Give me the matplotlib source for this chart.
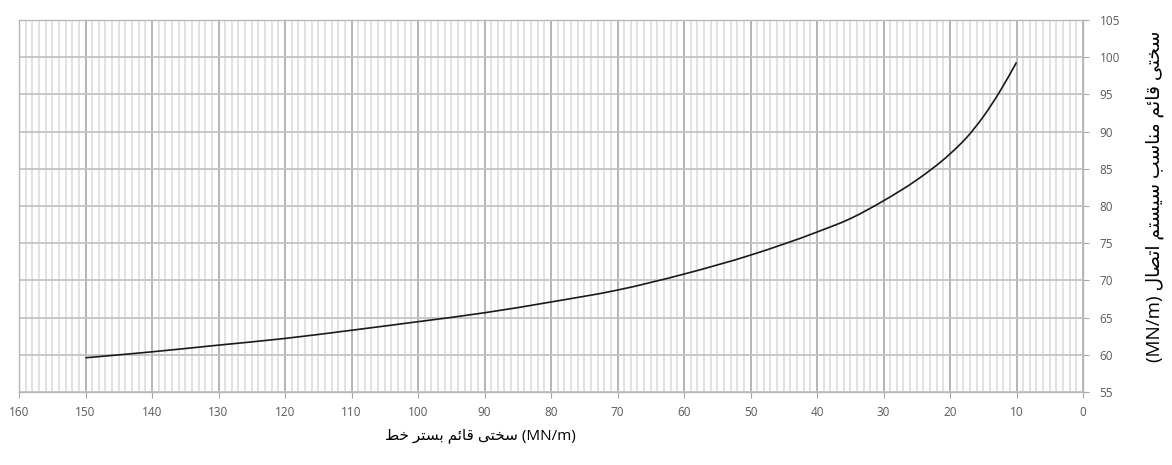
import numpy as np
import matplotlib
matplotlib.use('Agg')
import matplotlib.pyplot as plt
from matplotlib.ticker import MultipleLocator
from matplotlib.path import Path
from matplotlib.patches import PathPatch

# stiffness of track bed (x) vs. suitable stiffness of fastening system (y)
bed_stiffness = [150, 140, 130, 120, 110, 100, 90, 80, 70, 60, 50, 40, 35, 30, 25, 20, 17.5, 15, 12.5, 10]
fastening_stiffness = [59.6, 60.4, 61.3, 62.2, 63.3, 64.45, 65.65, 67.1, 68.7, 70.85,
                       73.4, 76.5, 78.3, 80.7, 83.5, 87.0, 89.2, 92.0, 95.4, 99.3]

x_ticks = list(range(0, 161, 10))
y_ticks = list(range(55, 106, 5))

xlabel_words = ['سختی', 'قائم', 'بستر', 'خط']
ylabel_words = ['سختی', 'قائم', 'مناسب', 'سیستم', 'اتصال']
unit = '(MN/m)'

# matplotlib has no arabic shaping -> pick presentation forms by hand
# (isolated, final, initial, medial); right-joining letters have no initial/medial
FORMS = {
    'ا': ('\uFE8D', '\uFE8E', None, None),
    'ر': ('\uFEAD', '\uFEAE', None, None),
    'ب': ('\uFE8F', '\uFE90', '\uFE91', '\uFE92'),
    'ت': ('\uFE95', '\uFE96', '\uFE97', '\uFE98'),
    'خ': ('\uFEA5', '\uFEA6', '\uFEA7', '\uFEA8'),
    'س': ('\uFEB1', '\uFEB2', '\uFEB3', '\uFEB4'),
    'ص': ('\uFEB9', '\uFEBA', '\uFEBB', '\uFEBC'),
    'ط': ('\uFEC1', '\uFEC2', '\uFEC3', '\uFEC4'),
    'ق': ('\uFED5', '\uFED6', '\uFED7', '\uFED8'),
    'ل': ('\uFEDD', '\uFEDE', '\uFEDF', '\uFEE0'),
    'م': ('\uFEE1', '\uFEE2', '\uFEE3', '\uFEE4'),
    'ن': ('\uFEE5', '\uFEE6', '\uFEE7', '\uFEE8'),
    'ئ': ('\uFE89', '\uFE8A', '\uFE8B', '\uFE8C'),
    'ی': ('\uFEEF', '\uFEF0', '\uFEF3', '\uFEF4'),
}


def shape(word):
    out = []
    n = len(word)
    for i, ch in enumerate(word):
        f = FORMS[ch]
        prev_join = i > 0 and FORMS[word[i - 1]][2] is not None
        next_join = i < n - 1 and f[2] is not None
        if prev_join and next_join:
            out.append(f[3])
        elif prev_join:
            out.append(f[1])
        elif next_join:
            out.append(f[2])
        else:
            out.append(f[0])
    return ''.join(reversed(out))


# visual order (left to right) of the rtl words
xlabel = ' '.join(shape(w) for w in reversed(xlabel_words)) + ' ' + unit
ylabel = unit + ' ' + ' '.join(shape(w) for w in reversed(ylabel_words))

fig = plt.figure(figsize=(11.72, 4.65), dpi=100)
ax = fig.add_axes([19 / 1172, 73 / 465, (1083 - 19) / 1172, (392 - 20) / 465])

# smoothed line: cubic hermite (as bezier) through the read points
xs = np.array(bed_stiffness, dtype=float)
ys = np.array(fastening_stiffness, dtype=float)
h = np.diff(xs)
d = np.diff(ys) / h
m = np.empty_like(xs)
m[0], m[-1] = d[0], d[-1]
m[1:-1] = (d[:-1] * h[1:] + d[1:] * h[:-1]) / (h[:-1] + h[1:])
verts = [(xs[0], ys[0])]
codes = [Path.MOVETO]
for i in range(len(xs) - 1):
    verts += [(xs[i] + h[i] / 3, ys[i] + m[i] * h[i] / 3),
              (xs[i + 1] - h[i] / 3, ys[i + 1] - m[i + 1] * h[i] / 3),
              (xs[i + 1], ys[i + 1])]
    codes += [Path.CURVE4] * 3
ax.add_patch(PathPatch(Path(verts, codes), fill=False, edgecolor='#1a1a1a', lw=1.2, zorder=5))

ax.set_xlim(160, 0)
ax.set_ylim(55, 105)
ax.set_xticks(x_ticks)
ax.set_yticks(y_ticks)
ax.xaxis.set_minor_locator(MultipleLocator(1))

ax.grid(True, which='major', axis='y', color='#c4c4c4', lw=1.3)
ax.grid(True, which='major', axis='x', color='#b0b0b0', lw=1.3)
ax.grid(True, which='minor', axis='x', color='#dadada', lw=1.1)
ax.set_axisbelow(True)

for s in ax.spines.values():
    s.set_color('#b8b8b8')
    s.set_linewidth(1.0)

ax.yaxis.tick_right()
ax.tick_params(axis='both', which='major', length=4, color='#a6a6a6',
               labelsize=8.5, labelcolor='#595959')
ax.tick_params(axis='x', which='minor', length=0)
ax.tick_params(axis='x', pad=6)
ax.tick_params(axis='y', pad=8)
for lab in ax.get_xticklabels() + ax.get_yticklabels():
    lab.set_family(['Open Sans', 'DejaVu Sans'])

fig.text(480 / 1172, 1 - 436 / 465, xlabel, ha='center', va='center',
         fontsize=11, color='#000000', family=['Open Sans', 'DejaVu Sans'])
fig.text(1155 / 1172, 1 - 196 / 465, ylabel, ha='center', va='center', rotation=90,
         fontsize=13.5, color='#000000', family=['Open Sans', 'DejaVu Sans'])

fig.savefig('out.png', dpi=100)
